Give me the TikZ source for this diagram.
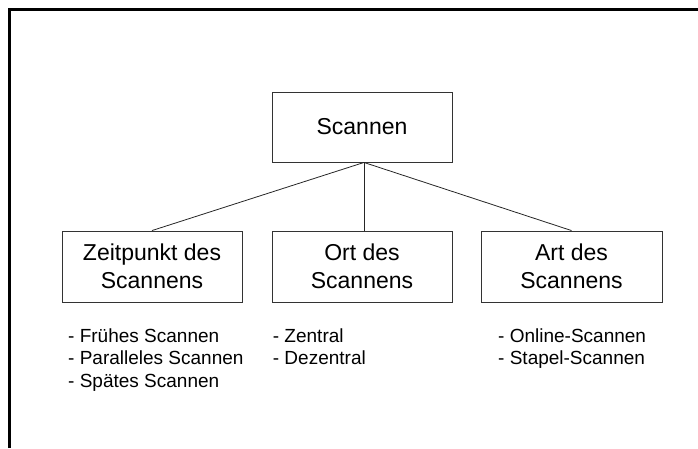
\documentclass[tikz,border=0pt]{standalone}
\usepackage{fontspec}
\setmainfont{Liberation Sans}
\begin{document}
\begin{tikzpicture}[x=1pt,y=-1pt,
  catbox/.style={draw=black!80,line width=0.9pt,inner sep=0pt,align=center,
    font=\fontsize{23}{28.3}\selectfont},
  listline/.style={anchor=base west,inner sep=0pt,font=\fontsize{19}{22.5}\selectfont},
  conn/.style={draw=black!85,line width=0.8pt},
  frame/.style={draw=black,line width=2.5pt}]
\useasboundingbox (0,0) rectangle (698,448);
% outer frame (only left and top edges are inside the picture)
\coordinate (fbl) at (9.5,448);
\coordinate (ftl) at (9.5,9.5);
\coordinate (ftr) at (698,9.5);
\draw[frame] (fbl) -- (ftl) -- (ftr);
% boxes
\node[catbox,minimum width=180pt,minimum height=70pt] (top) at (362,127) {Scannen};
\node[catbox,minimum width=180pt,minimum height=71pt] (zeit) at (152,266.5) {Zeitpunkt des\\Scannens};
\node[catbox,minimum width=180pt,minimum height=71pt] (ort) at (362,266.5) {Ort des\\Scannens};
\node[catbox,minimum width=181pt,minimum height=71pt] (art) at (571.5,266.5) {Art des\\Scannens};
% connectors
\coordinate (hub) at ([xshift=2pt]top.south);
\draw[conn] (hub) -- (zeit.north);
\draw[conn] (hub) -- (ort.north -| hub);
\draw[conn] (hub) -- (art.north);
% lists
\node[listline] (z1) at (68,342.3) {- Frühes Scannen};
\node[listline] (z2) at (68,364.9) {- Paralleles Scannen};
\node[listline] (z3) at (68,387.5) {- Spätes Scannen};
\node[listline] (o1) at (272.7,342.3) {- Zentral};
\node[listline] (o2) at (272.7,364.9) {- Dezentral};
\node[listline] (a1) at (498,342.3) {- Online-Scannen};
\node[listline] (a2) at (498,364.9) {- Stapel-Scannen};
\end{tikzpicture}
\end{document}
